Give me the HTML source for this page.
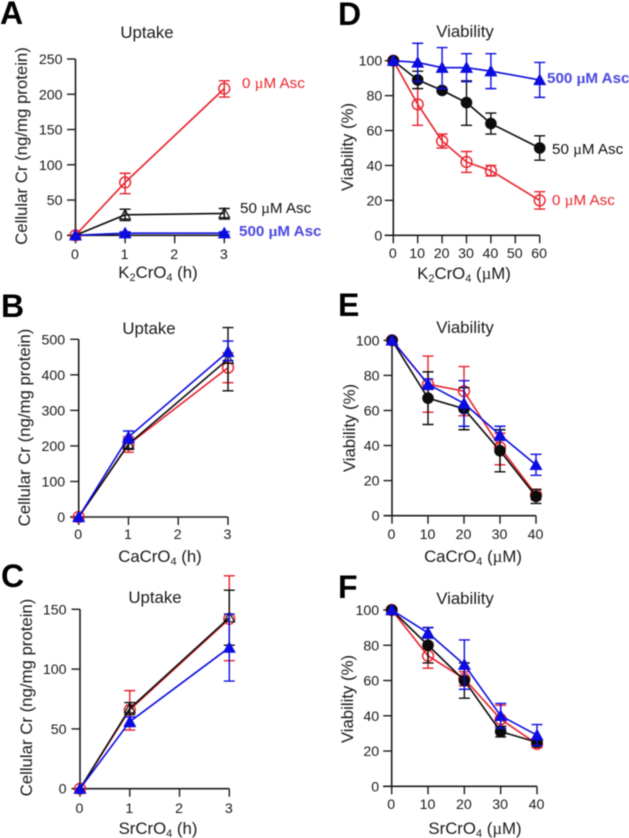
<!DOCTYPE html>
<html lang="en">
<head>
<meta charset="utf-8">
<title>Cellular chromium uptake and viability panels</title>
<style>
html,body{margin:0;padding:0;background:#fff;width:629px;height:838px;overflow:hidden}
svg{display:block;filter:blur(0.4px)}
text{font-family:"Liberation Sans",Arial,sans-serif;fill:#1a1a1a}
.panel{font-size:32px;font-weight:700;fill:#000}
.title,.axt{font-size:16.8px}
.tick{font-size:14.2px}
.lab{font-size:15.2px}
.mu{font-family:"Liberation Serif",serif}
</style>
</head>
<body>
<svg id="chart" xmlns="http://www.w3.org/2000/svg" width="629" height="838" viewBox="0 0 629 838">
<rect width="629" height="838" fill="#fff"/>

<text class="panel" x="0" y="24">A</text>
<text class="panel" x="338" y="25">D</text>
<text class="panel" x="1" y="317">B</text>
<text class="panel" x="338" y="316">E</text>
<text class="panel" x="1" y="587">C</text>
<text class="panel" x="338" y="598">F</text>

<text class="title" x="147" y="38" text-anchor="middle">Uptake</text>
<text class="title" x="465" y="37" text-anchor="middle">Viability</text>
<text class="title" x="149" y="334" text-anchor="middle">Uptake</text>
<text class="title" x="465" y="333" text-anchor="middle">Viability</text>
<text class="title" x="155" y="603" text-anchor="middle">Uptake</text>
<text class="title" x="465" y="604" text-anchor="middle">Viability</text>

<text class="axt" transform="translate(27,146) rotate(-90)" text-anchor="middle">Cellular Cr (ng/mg protein)</text>
<text class="axt" transform="translate(30,427.5) rotate(-90)" text-anchor="middle">Cellular Cr (ng/mg protein)</text>
<text class="axt" transform="translate(32,697.5) rotate(-90)" text-anchor="middle">Cellular Cr (ng/mg protein)</text>
<text class="axt" transform="translate(353,147) rotate(-90)" text-anchor="middle">Viability (%)</text>
<text class="axt" transform="translate(355,428) rotate(-90)" text-anchor="middle">Viability (%)</text>
<text class="axt" transform="translate(353,699) rotate(-90)" text-anchor="middle">Viability (%)</text>

<text class="axt" x="158" y="278" text-anchor="middle">K<tspan font-size="11" dy="3">2</tspan><tspan dy="-3">CrO</tspan><tspan font-size="11" dy="3">4</tspan><tspan dy="-3"> (h)</tspan></text>
<text class="axt" x="464" y="279" text-anchor="middle">K<tspan font-size="11" dy="3">2</tspan><tspan dy="-3">CrO</tspan><tspan font-size="11" dy="3">4</tspan><tspan dy="-3"> (</tspan><tspan class="mu">µ</tspan><tspan>M)</tspan></text>
<text class="axt" x="160" y="562" text-anchor="middle">CaCrO<tspan font-size="11" dy="3">4</tspan><tspan dy="-3"> (h)</tspan></text>
<text class="axt" x="473" y="562" text-anchor="middle">CaCrO<tspan font-size="11" dy="3">4</tspan><tspan dy="-3"> (</tspan><tspan class="mu">µ</tspan><tspan>M)</tspan></text>
<text class="axt" x="158" y="834" text-anchor="middle">SrCrO<tspan font-size="11" dy="3">4</tspan><tspan dy="-3"> (h)</tspan></text>
<text class="axt" x="475" y="834" text-anchor="middle">SrCrO<tspan font-size="11" dy="3">4</tspan><tspan dy="-3"> (</tspan><tspan class="mu">µ</tspan><tspan>M)</tspan></text>

<text class="lab" x="242" y="88" style="fill:#e8262c">0 <tspan class="mu">µ</tspan>M Asc</text>
<text class="lab" x="240" y="213" style="fill:#111">50 <tspan class="mu">µ</tspan>M Asc</text>
<text class="lab" x="239" y="236" font-weight="700" style="fill:#4a48e0">500 <tspan class="mu">µ</tspan>M Asc</text>
<text class="lab" x="547" y="83" font-weight="700" style="fill:#4a48e0">500 <tspan class="mu">µ</tspan>M Asc</text>
<text class="lab" x="552" y="154" style="fill:#111">50 <tspan class="mu">µ</tspan>M Asc</text>
<text class="lab" x="552" y="205" style="fill:#e8262c">0 <tspan class="mu">µ</tspan>M Asc</text>
</svg>

<script>
/* ---------- Data: categories ---------- */
const hours = [0, 1, 3];
const dosesTo60 = [0, 10, 20, 30, 40, 60];
const dosesTo40 = [0, 10, 20, 30, 40];

/* ---------- Data: tick labels ---------- */
const hourTicks = [0, 1, 2, 3];
const doseTicks60 = [0, 10, 20, 30, 40, 50, 60];
const doseTicks40 = [0, 10, 20, 30, 40];
const viabilityTicks = [0, 20, 40, 60, 80, 100];
const uptakeTicksA = [0, 50, 100, 150, 200, 250];
const uptakeTicksB = [0, 100, 200, 300, 400, 500];
const uptakeTicksC = [0, 50, 100, 150];

/* ---------- Panel A ---------- */
const aRed = [0, 75, 208];
const aRedHigh = [0, 88, 219];
const aRedLow = [0, 59, 196];
const aBlack = [0, 29, 31];
const aBlackHigh = [0, 37, 38];
const aBlackLow = [0, 21, 23];
const aBlue = [0, 3, 3];
const aBlueHigh = [0, 5, 5];
const aBlueLow = [0, 1, 1];

/* ---------- Panel B ---------- */
const bRed = [0, 204, 420];
const bRedHigh = [0, 226, 462];
const bRedLow = [0, 182, 378];
const bBlack = [0, 205, 444];
const bBlackHigh = [0, 220, 533];
const bBlackLow = [0, 190, 355];
const bBlue = [0, 225, 465];
const bBlueHigh = [0, 242, 495];
const bBlueLow = [0, 208, 440];

/* ---------- Panel C ---------- */
const cRed = [0, 66, 142];
const cRedHigh = [0, 82, 178];
const cRedLow = [0, 49, 107];
const cBlack = [0, 67, 143];
const cBlackHigh = [0, 72, 166];
const cBlackLow = [0, 62, 120];
const cBlue = [0, 56, 118];
const cBlueHigh = [0, 60, 146];
const cBlueLow = [0, 52, 90];

/* ---------- Panel D ---------- */
const dRed = [100, 75, 54, 42, 37, 20];
const dRedHigh = [100, 88, 58, 48, 40, 25];
const dRedLow = [100, 63, 50, 36, 34, 15];
const dBlack = [100, 89, 83, 76, 64, 50];
const dBlackHigh = [100, 94, 83, 88.5, 70, 57];
const dBlackLow = [100, 84, 83, 63, 58, 43];
const dBlue = [100, 99, 96, 96, 94, 89];
const dBlueHigh = [100, 110, 107.5, 104, 104, 99];
const dBlueLow = [100, 88, 84, 88, 84, 79];

/* ---------- Panel E ---------- */
const eRed = [100, 75, 71, 39, 12];
const eRedHigh = [100, 91, 85, 47, 15];
const eRedLow = [100, 59, 57, 29, 9];
const eBlack = [100, 67, 61, 37, 11];
const eBlackHigh = [100, 82, 73, 49, 15];
const eBlackLow = [100, 52, 49, 25, 7];
const eBlue = [100, 75, 64, 46, 29];
const eBlueHigh = [100, 78, 77, 51, 35];
const eBlueLow = [100, 72, 51, 43, 23];

/* ---------- Panel F ---------- */
const fRed = [100, 74, 61, 38, 24];
const fRedHigh = [100, 81, 65, 46, 27];
const fRedLow = [100, 67, 57, 34, 22];
const fBlack = [100, 80, 60, 31, 25];
const fBlackHigh = [100, 90, 70, 34, 27];
const fBlackLow = [100, 70, 50, 28, 23];
const fBlue = [100, 87, 69, 40, 29];
const fBlueHigh = [100, 90, 83, 47, 35];
const fBlueLow = [100, 84, 55, 33, 23];

const RED = '#e8202a';
const BLACK = '#0c0c0c';
const BLUE = '#0c0ce0';
const AXIS = '#1c1c1c';
const NS = 'http://www.w3.org/2000/svg';
const svg = document.getElementById('chart');

const panels = [
  { left: 75.5, right: 224.3, bottom: 235.3, top: 59, xMax: 3, yMax: 250, gap: 13, tickBase: 259,
    xCats: hours, xTicks: hourTicks, yTicks: uptakeTicksA, openBlack: true,
    red: [aRed, aRedHigh, aRedLow], black: [aBlack, aBlackHigh, aBlackLow], blue: [aBlue, aBlueHigh, aBlueLow] },
  { left: 78.7, right: 228, bottom: 517, top: 339.3, xMax: 3, yMax: 500, gap: 13.5, tickBase: 539,
    xCats: hours, xTicks: hourTicks, yTicks: uptakeTicksB, openBlack: true,
    red: [bRed, bRedHigh, bRedLow], black: [bBlack, bBlackHigh, bBlackLow], blue: [bBlue, bBlueHigh, bBlueLow] },
  { left: 80, right: 229.3, bottom: 788.7, top: 609.3, xMax: 3, yMax: 150, gap: 13.5, tickBase: 813,
    xCats: hours, xTicks: hourTicks, yTicks: uptakeTicksC, openBlack: true,
    red: [cRed, cRedHigh, cRedLow], black: [cBlack, cBlackHigh, cBlackLow], blue: [cBlue, cBlueHigh, cBlueLow] },
  { left: 393.3, right: 539.7, bottom: 235.3, top: 60.7, xMax: 60, yMax: 100, gap: 11, tickBase: 258,
    xCats: dosesTo60, xTicks: doseTicks60, yTicks: viabilityTicks, openBlack: false,
    red: [dRed, dRedHigh, dRedLow], black: [dBlack, dBlackHigh, dBlackLow], blue: [dBlue, dBlueHigh, dBlueLow] },
  { left: 392, right: 536, bottom: 515.7, top: 340.3, xMax: 40, yMax: 100, gap: 12.5, tickBase: 539,
    xCats: dosesTo40, xTicks: doseTicks40, yTicks: viabilityTicks, openBlack: false,
    red: [eRed, eRedHigh, eRedLow], black: [eBlack, eBlackHigh, eBlackLow], blue: [eBlue, eBlueHigh, eBlueLow] },
  { left: 391.7, right: 537, bottom: 786.3, top: 610, xMax: 40, yMax: 100, gap: 12.5, tickBase: 809,
    xCats: dosesTo40, xTicks: doseTicks40, yTicks: viabilityTicks, openBlack: false,
    red: [fRed, fRedHigh, fRedLow], black: [fBlack, fBlackHigh, fBlackLow], blue: [fBlue, fBlueHigh, fBlueLow] }
];

function shape(tag, attrs) {
  const el = document.createElementNS(NS, tag);
  for (const k in attrs) el.setAttribute(k, attrs[k]);
  svg.appendChild(el);
  return el;
}

function drawAxes(p, sx, sy) {
  const yAxis = shape('line', { x1: p.left, x2: p.left, y1: p.bottom, y2: p.top, stroke: AXIS, 'stroke-width': 1.6 });
  
  
  const xAxis = shape('line', { x1: p.left - 8.5, x2: p.right, y1: p.bottom, y2: p.bottom, stroke: AXIS, 'stroke-width': 1.6 });
  
  
  p.yTicks.forEach(v => {
    const t = shape('line', { x1: p.left - 8.5, x2: p.left, y1: sy(v), y2: sy(v), stroke: AXIS, 'stroke-width': 1.4 });
    
    
    const l = shape('text', { x: p.left - p.gap, y: sy(v) + 5, 'text-anchor': 'end', class: 'tick' });
    
    
    l.textContent = v;
  });
  p.xTicks.forEach(v => {
    const t = shape('line', { x1: sx(v), x2: sx(v), y1: p.bottom, y2: p.bottom + 8, stroke: AXIS, 'stroke-width': 1.4 });
    
    
    const l = shape('text', { x: sx(v) - 0.5, y: p.tickBase, 'text-anchor': 'middle', class: 'tick' });
    
    
    l.textContent = v;
  });
}

function drawErrors(p, series, color, sx, sy) {
  const [vals, high, low] = series;
  vals.forEach((v, i) => {
    if (high[i] === low[i]) return;
    const x = sx(p.xCats[i]);
    const d = `M${x} ${sy(high[i])}V${sy(low[i])}M${x - 5.5} ${sy(high[i])}H${x + 5.5}M${x - 5.5} ${sy(low[i])}H${x + 5.5}`;
    const e = shape('path', { d: d, fill: 'none', stroke: color, 'stroke-width': 1.4 });
    
    
  });
}

function drawLine(p, series, color, sx, sy) {
  const pts = series[0].map((v, i) => sx(p.xCats[i]) + ',' + sy(v)).join(' ');
  const l = shape('polyline', { points: pts, fill: 'none', stroke: color, 'stroke-width': 1.6 });
  
  
}

function triangle(x, y, s) {
  return `${x},${y - s} ${x - s},${y + s * 0.8} ${x + s},${y + s * 0.8}`;
}

function drawMarkers(p, series, kind, color, sx, sy) {
  series[0].forEach((v, i) => {
    const x = sx(p.xCats[i]), y = sy(v);
    let m;
    if (kind === 'open-circle') {
      m = shape('circle', { cx: x, cy: y, r: 5.4, fill: 'none', stroke: color, 'stroke-width': 1.4 });
    } else if (kind === 'filled-circle') {
      m = shape('circle', { cx: x, cy: y, r: 5.8, fill: color });
    } else if (kind === 'open-triangle') {
      m = shape('polygon', { points: triangle(x, y, 5.2), fill: 'none', stroke: color, 'stroke-width': 1.2 });
    } else {
      m = shape('polygon', { points: triangle(x, y, 6.5), fill: color });
    }
    
    
  });
}

panels.forEach(p => {
  const sx = v => p.left + (v / p.xMax) * (p.right - p.left);
  const sy = v => p.bottom - (v / p.yMax) * (p.bottom - p.top);
  drawAxes(p, sx, sy);
  const layers = [
    [p.red, RED, 'open-circle'],
    [p.black, BLACK, p.openBlack ? 'open-triangle' : 'filled-circle'],
    [p.blue, BLUE, 'filled-triangle']
  ];
  layers.forEach(([s, c, k]) => {
    drawErrors(p, s, c, sx, sy);
    drawLine(p, s, c, sx, sy);
    drawMarkers(p, s, k, c, sx, sy);
  });
});
</script>
</body>
</html>
